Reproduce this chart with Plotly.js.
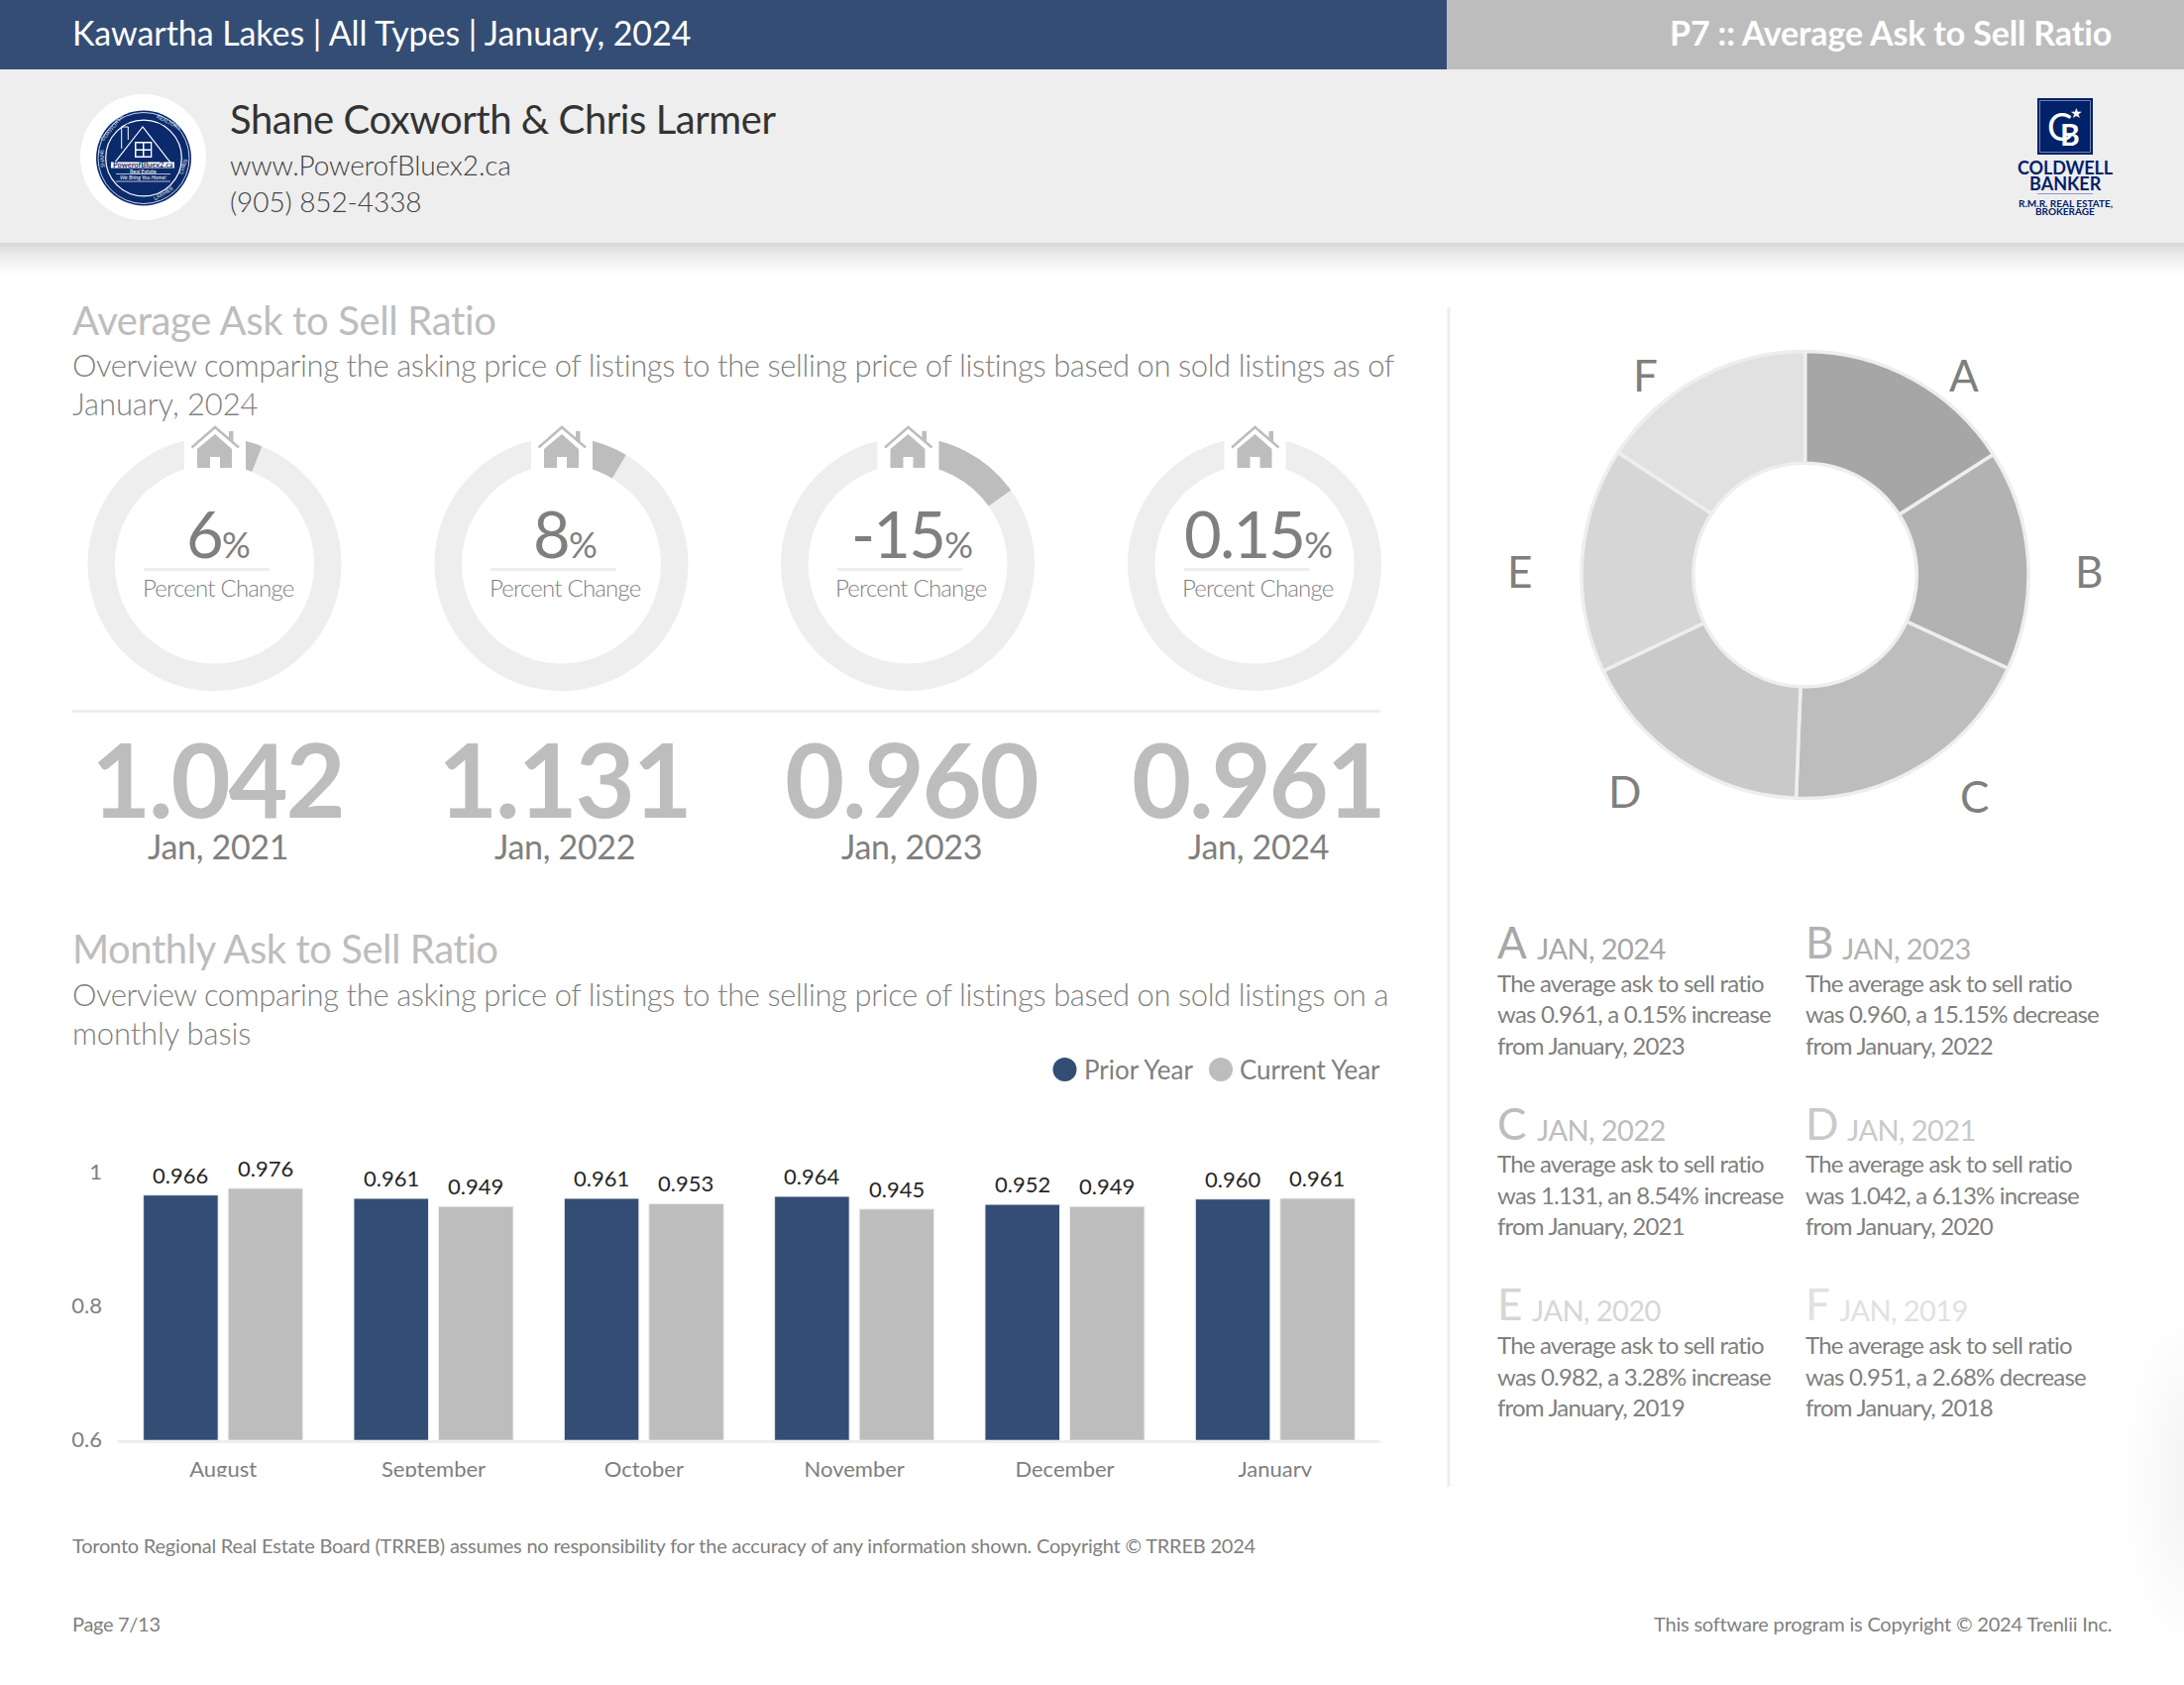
<!DOCTYPE html>
<html><head><meta charset="utf-8">
<script src="https://cdn.plot.ly/plotly-3.0.1.min.js"></script>
<style>html,body{margin:0;padding:0;background:#fff}#chart{width:2204px;height:1700px}</style>
</head><body><div id="chart"></div>
<script>
// ---------- data ----------
const months = ['August','September','October','November','December','January'];
const priorYear = [0.966,0.961,0.961,0.964,0.952,0.960];
const currentYear = [0.976,0.949,0.953,0.945,0.949,0.961];
const yTicks = [0.6,0.8,1];
const yTickLabels = ['0.6','0.8','1'];
const ringChange = [6.13,8.54,15.15,0.15];
const ringLabels = ['6','8','-15','0.15'];
const bigValues = ['1.042','1.131','0.960','0.961'];
const bigDates = ['Jan, 2021','Jan, 2022','Jan, 2023','Jan, 2024'];
const donutLetters = ['A','B','C','D','E','F'];
const donutValues = [0.961,0.960,1.131,1.042,0.982,0.951];
const donutColors = ['#a6a6a6','#b2b2b2','#bdbdbd','#c9c9c9','#d6d6d6','#e1e1e1'];
const blockDates = ['JAN, 2024','JAN, 2023','JAN, 2022','JAN, 2021','JAN, 2020','JAN, 2019'];
const blockLines = [
 ['The average ask to sell ratio','was 0.961, a 0.15% increase','from January, 2023'],
 ['The average ask to sell ratio','was 0.960, a 15.15% decrease','from January, 2022'],
 ['The average ask to sell ratio','was 1.131, an 8.54% increase','from January, 2021'],
 ['The average ask to sell ratio','was 1.042, a 6.13% increase','from January, 2020'],
 ['The average ask to sell ratio','was 0.982, a 3.28% increase','from January, 2019'],
 ['The average ask to sell ratio','was 0.951, a 2.68% decrease','from January, 2018']];

// ---------- style constants ----------
const W=2204,H=1700,NAVY='#334d75',GREY='#bdbdbd',PALE='#eeeeee',TXT='#7f7f7f',FONT='Lato';
const shapes=[],ann=[];
const rect=(x0,y0,x1,y1,fill,op)=>shapes.push({type:'rect',xref:'x2',yref:'y2',x0,y0,x1,y1,fillcolor:fill,opacity:op===undefined?1:op,line:{width:0},layer:'above'});
const circ=(cx,cy,r,fill,line,lw,dash)=>shapes.push({type:'circle',xref:'x2',yref:'y2',x0:cx-r,y0:cy-r,x1:cx+r,y1:cy+r,fillcolor:fill||'rgba(0,0,0,0)',line:{width:lw||0,color:line||'rgba(0,0,0,0)',dash:dash||'solid'},layer:'above'});
const path=(d,fill,line,lw)=>shapes.push({type:'path',xref:'x2',yref:'y2',path:d,fillcolor:fill||'rgba(0,0,0,0)',line:{width:lw||0,color:line||'rgba(0,0,0,0)'},layer:'above'});
const txt=(x,y,text,size,color,o)=>{o=o||{};const t=o.ls?`<span style="letter-spacing:${o.ls}px">${text}</span>`:text;
  ann.push({xref:'x2',yref:'y2',x,y,text:t,showarrow:false,xanchor:o.a||'left',yanchor:'middle',borderpad:0,borderwidth:0,textangle:o.rot||0,
  font:{family:FONT,size,color,weight:o.w||400,style:o.style||'normal'}});};

// ---------- page furniture ----------
rect(0,0,1460,70,NAVY); rect(1460,0,W,70,GREY); rect(0,70,W,245,PALE);
for(let i=0;i<36;i++){const t=i/36,g=Math.round(255-(255-216)*Math.pow(1-t,1.6));rect(0,245+i,W,246+i,`rgb(${g},${g},${g})`);}
for(let i=0;i<10;i++){shapes.push({type:'circle',xref:'x2',yref:'y2',x0:W-60+i*6,y0:1330+i*14,x1:W+60-i*6,y1:1660-i*14,fillcolor:'#888888',opacity:0.012,line:{width:0},layer:'above'});}
txt(73,32,'Kawartha Lakes | All Types | January, 2024',34,'#ffffff',{ls:-0.07});
txt(2131,32,'P7 :: Average Ask to Sell Ratio',34,'#ffffff',{a:'right',w:700,ls:-0.15});
txt(232,120,'Shane Coxworth &amp; Chris Larmer',40,'#333333',{ls:-0.45});
txt(232,166,'www.PowerofBluex2.ca',28,'#444444',{w:300,ls:-0.15});
txt(232,203,'(905) 852-4338',28,'#444444',{w:300,ls:-0.1});

// agent badge
circ(144.5,158.5,63.5,'#ffffff');
circ(145,159.5,48,'#0b2a6b');
circ(145,159.5,46,null,'#c9d3ea',1);
circ(145,159.5,38.3,null,'#ffffff',1.2);
path('M144 128 L112.7 168 L175 168 Z',null,'#ffffff',1.2);
path('M122.7 150 L122.7 128 L129.3 128 L129.3 141',null,'#ffffff',1);
rect(136,143,153.3,159,'#ffffff',1);
rect(137.5,144.5,144,150.5,'#0b2a6b'); rect(145.5,144.5,152,150.5,'#0b2a6b');
rect(137.5,152,144,157.5,'#0b2a6b'); rect(145.5,152,152,157.5,'#0b2a6b');
rect(112,163.5,176,169.5,'#ffffff');
txt(144,166.5,'PowerofBluex2.ca',7.5,'#0b2a6b',{a:'center',w:700});
txt(144,172.5,'Real Estate',5.5,'#ffffff',{a:'center'});
path('M117 175.5 L172 175.5 M117 183 L172 183',null,'#ffffff',0.7);
txt(144,179.3,'We Bring You Home!',5.5,'#ffffff',{a:'center',style:'italic'});
txt(103,160,'SHANE',5.5,'#dfe5f2',{a:'center',rot:-95});
txt(113,129,'COXWORTH',5.5,'#dfe5f2',{a:'center',rot:-50});
txt(170,123,'REALTORS',5.5,'#dfe5f2',{a:'center',rot:28});
txt(185,168,'CHRIS',5.5,'#dfe5f2',{a:'center',rot:-70});
txt(165,195,'LARMER',5.5,'#dfe5f2',{a:'center',rot:-30});

// brokerage badge
rect(2056,99,2112,156,'#012169');
path('M2058.5 101.5 H2109.5 V153.5 H2058.5 Z',null,'#8c9ac4',0.8);
txt(2078,127,'C',38,'#ffffff',{a:'center'});
txt(2089,135,'B',30,'#ffffff',{a:'center',w:700});
txt(2095,113,'★',14,'#ffffff',{a:'center'});
txt(2084,169,'COLDWELL',18,'#012169',{a:'center',w:700,ls:-0.1});
txt(2084,185,'BANKER',18,'#012169',{a:'center',w:700});
rect(2056,195,2112,196,'#8c9ac4');
txt(2084,205,'R.M.R. REAL ESTATE,',10,'#012169',{a:'center',w:700});
txt(2084,213,'BROKERAGE',10,'#012169',{a:'center',w:700});

// section headings
txt(73,323,'Average Ask to Sell Ratio',40,GREY,{ls:-0.35});
txt(73,368,'Overview comparing the asking price of listings to the selling price of listings based on sold listings as of',31,TXT,{w:300,ls:-0.42});
txt(73,407,'January, 2024',31,TXT,{w:300,ls:-0.1});
txt(73,957,'Monthly Ask to Sell Ratio',40,GREY,{ls:-0.45});
txt(73,1003,'Overview comparing the asking price of listings to the selling price of listings based on sold listings on a',31,TXT,{w:300,ls:-0.42});
txt(73,1042,'monthly basis',31,TXT,{w:300,ls:-0.15});

// rings and figures
const ringX=[216.5,566.5,916,1266], ringY=569, ringR=128;
const data=[];
ringChange.forEach((v,i)=>{
  const c=ringX[i];
  data.push({type:'pie',values:[v,100-v],sort:false,direction:'clockwise',rotation:0,hole:0.785,textinfo:'none',hoverinfo:'skip',showlegend:false,
    marker:{colors:[GREY,PALE],line:{width:0}},
    domain:{x:[(c-ringR)/W,(c+ringR)/W],y:[1-(ringY+ringR)/H,1-(ringY-ringR)/H]}});
  rect(c-30.5,436,c+31.5,476,'#ffffff');
  path(`M${c+14.5} 444 L${c+14.5} 435 L${c+19} 435 L${c+19} 448 Z`,GREY);
  path(`M${c-17.5} 472 L${c-17.5} 453 L${c+0.5} 438 L${c+17.5} 453 L${c+17.5} 472 L${c+5.5} 472 L${c+5.5} 461 L${c-4.5} 461 L${c-4.5} 472 Z`,GREY);
  path(`M${c-23} 451.5 L${c+0.5} 431 L${c+24.5} 451.5`,null,GREY,2.5);
  txt(c+3.5,538,`<span style="letter-spacing:-1.8px">${ringLabels[i]}</span><span style="font-size:36px;letter-spacing:-1px">%</span>`,65,TXT,{a:'center'});
  rect(c-71.5,573,c+55.5,576,PALE);
  txt(c+3.5,592,'Percent Change',24,TXT,{a:'center',w:300,ls:-0.8});
  txt(c+2.5,784,bigValues[i],104,GREY,{a:'center',w:700,ls:-2.3});
  txt(c+3.5,853.5,bigDates[i],34,TXT,{a:'center',ls:-0.3});
});
rect(73,716,1393,719,PALE);
rect(1460.5,310,1463.5,1500,PALE);

// legend
circ(1074.5,1079,12,NAVY); txt(1094,1079,'Prior Year',26,TXT);
circ(1232,1079,12,GREY); txt(1251,1079,'Current Year',26,TXT,{ls:-0.1});

// bars
const bar=(name,y,color)=>({type:'bar',name,x:months,y,marker:{color,line:{color:PALE,width:1}},showlegend:false,hoverinfo:'skip',xaxis:'x',yaxis:'y',cliponaxis:false});
data.unshift(bar('Prior Year',priorYear,NAVY),bar('Current Year',currentYear,GREY));
// value labels, placed through the bar chart's own axes
const barLabel=(vals,shift)=>vals.forEach((v,i)=>ann.push({xref:'x',yref:'y',x:months[i],y:v,text:v.toFixed(3),showarrow:false,xshift:shift,yshift:20.5,yanchor:'middle',xanchor:'center',
  font:{family:FONT,size:22,color:'#262626'}}));
barLabel(priorYear,-43); barLabel(currentYear,42.5);
// clipped foot of the category labels
rect(100,1490,1400,1503,'#ffffff');

// big donut
const dc={x:1821.6,y:580,r:225.5};
data.push({type:'pie',labels:donutLetters,values:donutValues,sort:false,direction:'clockwise',rotation:0,hole:0.5,textinfo:'none',hoverinfo:'skip',showlegend:false,
  marker:{colors:donutColors,line:{color:PALE,width:3.5}},
  domain:{x:[(dc.x-dc.r)/W,(dc.x+dc.r)/W],y:[1-(dc.y+dc.r)/H,1-(dc.y-dc.r)/H]}});
const letterX=[1982,2108,1992,1639,1533,1660], letterY=[378,576,803,798,576,378];
donutLetters.forEach((l,i)=>txt(letterX[i],letterY[i],l,44,TXT,{a:'center'}));

// text blocks
const blockX=[1511,1822];
donutLetters.forEach((l,i)=>{
  const x=blockX[i%2],dy=Math.floor(i/2)*182.7;
  txt(x,950+dy,l,44,donutColors[i]);
  const off=[40,37,40,42,35,34][i];
  txt(x+off,956.5+dy,blockDates[i],29,donutColors[i],{ls:-0.6});
  blockLines[i].forEach((s,j)=>txt(x,991+dy+j*31.6,s,24,TXT,{ls:-0.8}));
});

// footer
txt(73,1559,'Toronto Regional Real Estate Board (TRREB) assumes no responsibility for the accuracy of any information shown. Copyright © TRREB 2024',20,TXT,{ls:-0.21});
txt(73,1638,'Page 7/13',20,TXT,{ls:-0.3});
txt(2131,1638,'This software program is Copyright © 2024 Trenlii Inc.',20,TXT,{a:'right',ls:-0.2});

const layout={width:W,height:H,margin:{l:0,r:0,t:0,b:0},paper_bgcolor:'#ffffff',plot_bgcolor:'rgba(0,0,0,0)',
  font:{family:FONT,color:TXT},barmode:'group',bargap:0.1945,bargroupgap:0.117,showlegend:false,
  xaxis:{domain:[119/W,1393/W],anchor:'y',showgrid:false,zeroline:false,showline:true,linecolor:PALE,linewidth:3,ticks:'outside',ticklen:8,tickcolor:'rgba(0,0,0,0)',
    tickfont:{family:FONT,size:22,color:TXT},fixedrange:true},
  yaxis:{domain:[1-1452.7/H,1-1182.7/H],anchor:'x',range:[0.6,1],tickvals:yTicks,ticktext:yTickLabels,showgrid:false,zeroline:false,showline:false,ticks:'',ticklabelstandoff:15,
    tickfont:{family:FONT,size:22,color:TXT},fixedrange:true},
  xaxis2:{domain:[0,1],range:[0,W],anchor:'y2',visible:false,fixedrange:true},
  yaxis2:{domain:[0,1],range:[H,0],anchor:'x2',visible:false,fixedrange:true},
  shapes,annotations:ann};
// invisible trace so the page axes exist
data.push({type:'scatter',x:[0],y:[0],xaxis:'x2',yaxis:'y2',mode:'none',showlegend:false,hoverinfo:'skip'});
Plotly.newPlot('chart',data,layout,{displayModeBar:false,staticPlot:true});
</script></body></html>
